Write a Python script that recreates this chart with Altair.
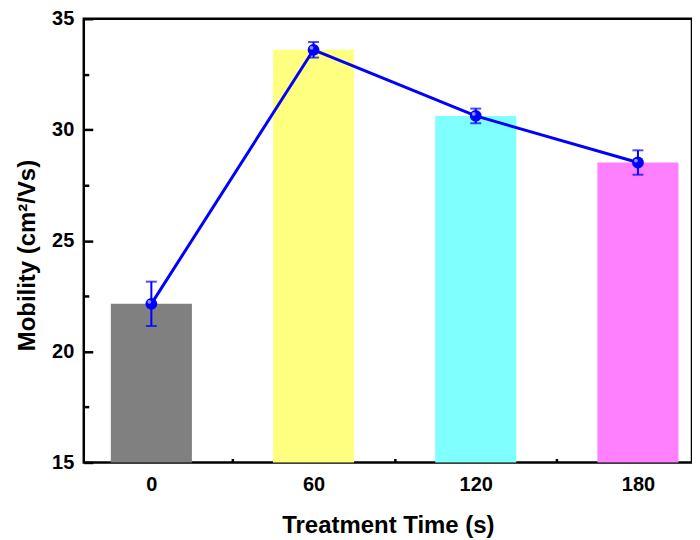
import altair as alt
import pandas as pd

times = [0, 60, 120, 180]
mobility = [22.15, 33.6, 30.62, 28.52]
errors = [1.0, 0.35, 0.33, 0.55]
bar_colors = ["#808080", "#FFFF80", "#80FFFF", "#FF80FF"]
y_major = [15, 20, 25, 30, 35]
y_minor = [17.5, 22.5, 27.5, 32.5]
x_major = [0, 60, 120, 180]
x_minor = [30, 90, 150]

df = pd.DataFrame({"time": times, "mob": mobility, "err": errors,
                   "cat": [str(t) for t in times]})

W, H = 610, 445
FONT = "Liberation Sans"

xs = alt.Scale(domain=[-25, 200], nice=False, zero=False)
ys = alt.Scale(domain=[15, 35], nice=False, zero=False)

base = alt.Chart(df)

bars = base.transform_calculate(
    lo="datum.time - 15", hi="datum.time + 15"
).mark_bar().encode(
    x=alt.X("lo:Q", scale=xs, axis=alt.Axis(
        values=x_major, tickSize=0, domain=False, grid=False,
        labelPadding=12, title="Treatment Time (s)", titlePadding=19,
        format="d")),
    x2="hi:Q",
    y=alt.Y("mob:Q", scale=ys, axis=alt.Axis(
        values=y_major, tickSize=0, domain=False, grid=False,
        labelPadding=10, title="Mobility (cm²/Vs)", titlePadding=12,
        titleY=237)),
    y2=alt.datum(15),
    color=alt.Color("cat:N", scale=alt.Scale(domain=[str(t) for t in times],
                                             range=bar_colors), legend=None),
)

line = base.mark_line(color="#0000FF", strokeWidth=3).encode(
    x=alt.X("time:Q", scale=xs, axis=alt.Axis(
        orient="top", offset=-H, values=x_major, tickSize=8, tickWidth=2.5,
        tickColor="black", labels=False, domain=False, grid=False, title=None)),
    y=alt.Y("mob:Q", scale=ys, axis=alt.Axis(
        orient="right", offset=-W, values=y_major, tickSize=9, tickWidth=2.5,
        tickColor="black", labels=False, domain=False, grid=False, title=None)),
)

errs = base.transform_calculate(
    elo="datum.mob - datum.err", ehi="datum.mob + datum.err"
).mark_errorbar(color="#0000FF", thickness=2,
                ticks={"size": 11, "thickness": 2, "color": "#0000FF"}).encode(
    x=alt.X("time:Q", scale=xs, axis=alt.Axis(
        orient="top", offset=-H, values=x_minor, tickSize=4, tickWidth=2.5,
        tickColor="black", labels=False, domain=False, grid=False, title=None)),
    y=alt.Y("elo:Q", scale=ys, axis=alt.Axis(
        orient="right", offset=-W, values=y_minor, tickSize=5, tickWidth=2.5,
        tickColor="black", labels=False, domain=False, grid=False, title=None)),
    y2="ehi:Q",
)

pts = base.mark_circle(color="#0000FF", opacity=1, size=140).encode(
    x=alt.X("time:Q", scale=xs, axis=None),
    y=alt.Y("mob:Q", scale=ys, axis=None),
)

hl = base.mark_circle(color="#9090FF", opacity=1, size=14, xOffset=-2, yOffset=-2).encode(
    x=alt.X("time:Q", scale=xs, axis=None),
    y=alt.Y("mob:Q", scale=ys, axis=None),
)

chart = alt.layer(bars, line, errs, pts, hl).resolve_axis(
    x="independent", y="independent"
).properties(
    width=W, height=H,
    autosize=alt.AutoSizeParams(type="none"),
    padding={"left": 76, "top": 10, "right": 0, "bottom": 85},
).configure_view(
    stroke="black", strokeWidth=2.5
).configure_axis(
    labelFont=FONT, labelFontSize=20, labelFontWeight="bold", labelColor="black",
    titleFont=FONT, titleFontSize=24, titleFontWeight="bold", titleColor="black",
)

chart.save("out.html", embed_options={"renderer": "svg", "actions": False})
